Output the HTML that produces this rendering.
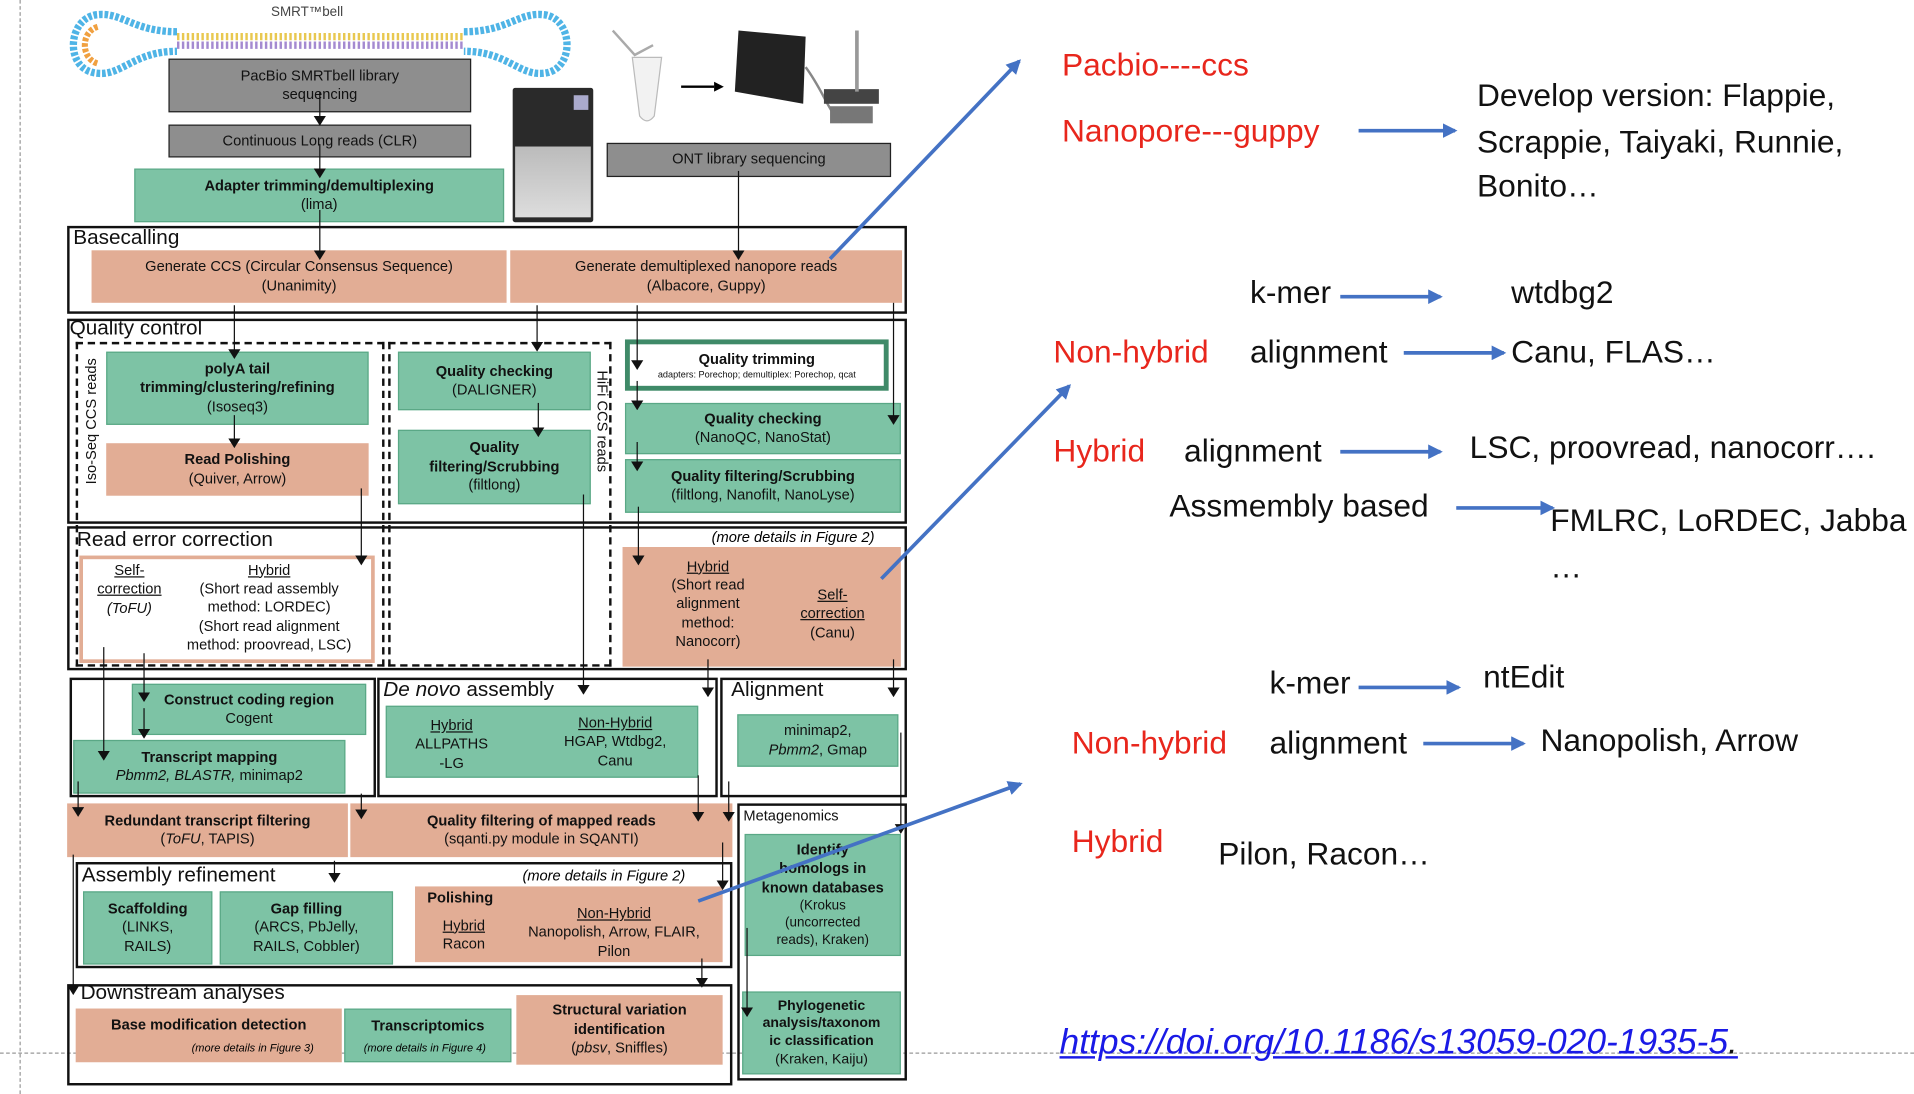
<!DOCTYPE html>
<html><head><meta charset="utf-8"><style>
html,body{margin:0;padding:0;background:#fff;width:1914px;height:1094px;overflow:hidden}
#w{position:absolute;left:0;top:0;width:1568px;height:896px;transform:scale(1.22066,1.22098);transform-origin:0 0;font-family:"Liberation Sans",sans-serif}
.b{position:absolute;display:flex;flex-direction:column;align-items:center;justify-content:center;text-align:center;font-size:12px;line-height:1.28;box-sizing:border-box;color:#111;white-space:nowrap}
.g{background:#7dc3a5;border:1px solid #5aa886}
.s{background:#e2ad95}
.gr{background:#8e8e8e;border:1.5px solid #222}
.o{position:absolute;border:2px solid #111;box-sizing:border-box}
.d{position:absolute;border:2px dashed #111;box-sizing:border-box}
.lab{position:absolute;font-size:17px;color:#111;white-space:nowrap}
.it{position:absolute;font-size:12px;font-style:italic;white-space:nowrap}
u{text-decoration:underline}
.t{position:absolute;font-family:"Liberation Sans",sans-serif;font-size:26px;white-space:nowrap;color:#111;line-height:1}
.r{color:#e8261c}
</style></head><body><div id="w">
<div style="position:absolute;left:16px;top:0;height:896px;border-left:1.5px dashed #999"></div>
<div style="position:absolute;left:0;top:862px;width:1568px;border-top:1.5px dashed #999"></div>

<div class="b" style="left:222px;top:3px;font-size:11px;color:#444">SMRT™bell</div>
<svg style="position:absolute;left:50px;top:8px" width="425" height="60">
<path d="M95 22 H330" stroke="#e8c850" stroke-width="6" stroke-dasharray="2 2"/>
<path d="M95 29 H330" stroke="#a48ad0" stroke-width="6" stroke-dasharray="2 2"/>
<path d="M95 18 C60 18 50 2 30 4 C5 6 2 50 30 52 C50 54 60 34 95 34" fill="none" stroke="#4fb4e6" stroke-width="6" stroke-dasharray="3 1.5"/>
<path d="M30 14 C16 18 16 40 30 44" fill="none" stroke="#f0a040" stroke-width="5" stroke-dasharray="3 1.5"/>
<path d="M330 18 C365 18 375 2 395 4 C420 6 422 50 395 52 C375 54 365 34 330 34" fill="none" stroke="#4fb4e6" stroke-width="6" stroke-dasharray="3 1.5"/>
</svg>
<div class="b gr" style="left:138px;top:48px;width:248px;height:44px">PacBio SMRTbell library<br>sequencing</div>
<div class="b gr" style="left:138px;top:102px;width:248px;height:27px">Continuous Long reads (CLR)</div>
<div class="b g" style="left:110px;top:138px;width:303px;height:44px"><b>Adapter trimming/demultiplexing</b>(lima)</div>
<div style="position:absolute;left:420px;top:72px;width:66px;height:110px;background:#2a2a2a;border-radius:2px"></div>
<div style="position:absolute;left:422px;top:120px;width:62px;height:58px;background:linear-gradient(#bbb,#ddd)"></div>
<div style="position:absolute;left:470px;top:78px;width:12px;height:12px;background:#aac"></div>
<svg style="position:absolute;left:490px;top:15px" width="240" height="95">
<path d="M12 10 L30 30 L45 22" fill="none" stroke="#aaa" stroke-width="2"/>
<path d="M28 32 H52 L46 80 Q40 88 34 80 Z" fill="#f2f2f2" stroke="#bbb"/>
<path d="M68 56 H95" stroke="#000" stroke-width="2"/><path d="M95 52 L103 56 L95 60Z" fill="#000"/>
<path d="M115 10 L170 15 L168 70 L112 60 Z" fill="#222"/>
<path d="M170 40 C185 60 190 80 200 85" fill="none" stroke="#888" stroke-width="2"/>
<rect x="185" y="58" width="45" height="12" fill="#444"/><rect x="190" y="72" width="35" height="14" fill="#777"/>
<path d="M212 10 V60" stroke="#999" stroke-width="3"/>
</svg>
<div class="b gr" style="left:497px;top:117px;width:233px;height:28px">ONT library sequencing</div>

<div class="o" style="left:55px;top:185px;width:688px;height:72px"></div>
<div class="lab" style="left:60px;top:185px">Basecalling</div>
<div class="b s" style="left:75px;top:205px;width:340px;height:43px">Generate CCS (Circular Consensus Sequence)<br>(Unanimity)</div>
<div class="b s" style="left:418px;top:205px;width:321px;height:43px">Generate demultiplexed nanopore reads<br>(Albacore, Guppy)</div>

<div class="o" style="left:55px;top:261px;width:688px;height:168px"></div>
<div class="lab" style="left:57px;top:259px">Quality control</div>
<div class="o" style="left:55px;top:431px;width:688px;height:118px"></div>
<div class="d" style="left:62px;top:280px;width:253px;height:266px"></div>
<div class="d" style="left:318px;top:280px;width:183px;height:266px"></div>
<div class="b" style="left:13px;top:338px;width:125px;height:14px;transform:rotate(-90deg);font-size:12px">Iso-Seq CCS reads</div>
<div class="b" style="left:440px;top:338px;width:105px;height:14px;transform:rotate(90deg);font-size:12px">HiFi CCS reads</div>
<div class="b g" style="left:87px;top:288px;width:215px;height:60px"><b>polyA tail<br>trimming/clustering/refining</b>(Isoseq3)</div>
<div class="b s" style="left:87px;top:363px;width:215px;height:43px"><b>Read Polishing</b>(Quiver, Arrow)</div>
<div class="b g" style="left:326px;top:288px;width:158px;height:48px"><b>Quality checking</b>(DALIGNER)</div>
<div class="b g" style="left:326px;top:352px;width:158px;height:61px"><b>Quality<br>filtering/Scrubbing</b>(filtlong)</div>
<div class="b" style="left:512px;top:278px;width:216px;height:42px;border:4px solid #3f8a68;background:#fff"><b>Quality trimming</b><span style="font-size:7.5px">adapters: Porechop; demultiplex: Porechop, qcat</span></div>
<div class="b g" style="left:512px;top:330px;width:226px;height:42px"><b>Quality checking</b>(NanoQC, NanoStat)</div>
<div class="b g" style="left:512px;top:376px;width:226px;height:44px"><b>Quality filtering/Scrubbing</b>(filtlong, Nanofilt, NanoLyse)</div>

<div class="lab" style="left:63px;top:432px">Read error correction</div>
<div class="it" style="left:583px;top:433px">(more details in Figure 2)</div>
<div style="position:absolute;left:65px;top:455px;width:242px;height:88px;border:3px solid #e2ad95;box-sizing:border-box;background:#fff"></div>
<div class="b" style="left:70px;top:458px;width:72px;height:50px"><u>Self-<br>correction</u><i>(ToFU)</i></div>
<div class="b" style="left:138px;top:457px;width:165px;height:82px"><u>Hybrid</u>(Short read assembly<br>method: LORDEC)<br>(Short read alignment<br>method: proovread, LSC)</div>
<div class="b s" style="left:510px;top:448px;width:228px;height:98px"></div>
<div class="b" style="left:535px;top:452px;width:90px;height:86px"><u>Hybrid</u>(Short read<br>alignment<br>method:<br>Nanocorr)</div>
<div class="b" style="left:640px;top:478px;width:84px;height:50px"><u>Self-<br>correction</u>(Canu)</div>

<div class="o" style="left:57px;top:555px;width:251px;height:98px"></div>
<div class="o" style="left:309px;top:555px;width:279px;height:98px"></div>
<div class="o" style="left:590px;top:555px;width:153px;height:98px"></div>
<div class="b g" style="left:108px;top:560px;width:192px;height:42px"><b>Construct coding region</b>Cogent</div>
<div class="b g" style="left:60px;top:606px;width:223px;height:44px"><b>Transcript mapping</b><span><i>Pbmm2, BLASTR,</i> minimap2</span></div>
<div class="lab" style="left:314px;top:555px"><i>De novo</i> assembly</div>
<div class="b g" style="left:316px;top:578px;width:256px;height:59px"></div>
<div class="b" style="left:325px;top:585px;width:90px;height:50px"><u>Hybrid</u>ALLPATHS<br>-LG</div>
<div class="b" style="left:445px;top:583px;width:118px;height:50px"><u>Non-Hybrid</u>HGAP, Wtdbg2,<br>Canu</div>
<div class="lab" style="left:599px;top:555px">Alignment</div>
<div class="b g" style="left:604px;top:585px;width:132px;height:43px">minimap2,<br><span><i>Pbmm2</i>, Gmap</span></div>

<div class="b s" style="left:55px;top:658px;width:230px;height:44px"><b>Redundant transcript filtering</b><span>(<i>ToFU</i>, TAPIS)</span></div>
<div class="b s" style="left:287px;top:658px;width:313px;height:44px"><b>Quality filtering of mapped reads</b>(sqanti.py module in SQANTI)</div>
<div class="o" style="left:604px;top:658px;width:139px;height:227px"></div>
<div class="b" style="left:609px;top:661px;font-size:12px">Metagenomics</div>
<div class="b g" style="left:610px;top:683px;width:128px;height:100px"><b>Identify<br>homologs in<br>known databases</b><span style="font-size:11px">(Krokus<br>(uncorrected<br>reads), Kraken)</span></div>
<div class="b g" style="left:608px;top:812px;width:130px;height:68px;font-size:11.5px"><b>Phylogenetic<br>analysis/taxonom<br>ic classification</b>(Kraken, Kaiju)</div>

<div class="o" style="left:62px;top:706px;width:538px;height:87px"></div>
<div class="lab" style="left:67px;top:707px">Assembly refinement</div>
<div class="it" style="left:428px;top:710px">(more details in Figure 2)</div>
<div class="b g" style="left:68px;top:730px;width:106px;height:60px"><b>Scaffolding</b>(LINKS,<br>RAILS)</div>
<div class="b g" style="left:180px;top:730px;width:142px;height:60px"><b>Gap filling</b>(ARCS, PbJelly,<br>RAILS, Cobbler)</div>
<div class="b s" style="left:340px;top:726px;width:252px;height:62px"></div>
<div class="b" style="left:350px;top:728px"><b>Polishing</b></div>
<div class="b" style="left:355px;top:750px;width:50px;height:32px"><u>Hybrid</u>Racon</div>
<div class="b" style="left:418px;top:740px;width:170px;height:48px"><u>Non-Hybrid</u>Nanopolish, Arrow, FLAIR,<br>Pilon</div>

<div class="o" style="left:55px;top:806px;width:545px;height:83px"></div>
<div class="lab" style="left:66px;top:803px">Downstream analyses</div>
<div class="b s" style="left:62px;top:826px;width:218px;height:44px;justify-content:flex-start;padding-top:6px"><b>Base modification detection</b></div>
<div class="it" style="left:157px;top:853px;font-size:9px">(more details in Figure 3)</div>
<div class="b g" style="left:282px;top:826px;width:137px;height:44px;justify-content:flex-start;padding-top:6px"><b>Transcriptomics</b></div>
<div class="it" style="left:298px;top:853px;font-size:9px">(more details in Figure 4)</div>
<div class="b s" style="left:423px;top:815px;width:169px;height:57px"><b>Structural variation<br>identification</b><span>(<i>pbsv</i>, Sniffles)</span></div>

<svg style="position:absolute;left:0;top:0" width="1568" height="896">
<defs><marker id="a" markerWidth="8" markerHeight="10" refX="7" refY="5" orient="auto" markerUnits="userSpaceOnUse"><path d="M0 0 L8 5 L0 10Z" fill="#111"/></marker>
<marker id="bl" markerWidth="12" markerHeight="12" refX="10" refY="6" orient="auto" markerUnits="userSpaceOnUse"><path d="M0 0 L12 6 L0 12Z" fill="#4472c4"/></marker></defs>
<g stroke="#111" stroke-width="1" fill="none" marker-end="url(#a)">
<path d="M262 75 V102"/><path d="M262 118 V145"/><path d="M262 172 V212"/><path d="M605 140 V212"/>
<path d="M192 250 V293"/><path d="M440 250 V287"/><path d="M522 250 V302"/><path d="M522 312 V335"/><path d="M732 248 V347"/><path d="M522 362 V385"/>
<path d="M192 340 V366"/><path d="M441 330 V357"/><path d="M296 400 V462"/><path d="M478 405 V568"/><path d="M523 415 V462"/>
<path d="M85 530 V622"/><path d="M118 535 V574"/><path d="M118 580 V604"/><path d="M580 540 V570"/><path d="M732 540 V570"/>
<path d="M64 640 V668"/><path d="M296 650 V670"/><path d="M572 635 V672"/><path d="M597 640 V672"/>
<path d="M274 705 V722"/><path d="M592 690 V728"/><path d="M575 785 V808"/><path d="M60 700 V814"/><path d="M612 760 V832"/><path d="M738 600 V682"/>
</g>
<g stroke="#4472c4" stroke-width="3" fill="none" marker-end="url(#bl)">
<path d="M680 212 L835 50"/><path d="M722 474 L876 316"/><path d="M572 738 L836 642"/>
<path d="M1113 107 H1192"/><path d="M1098 243 H1180"/><path d="M1150 289 H1232"/><path d="M1098 370 H1180"/><path d="M1193 416 H1272"/>
<path d="M1113 563 H1195"/><path d="M1166 609 H1248"/>
</g>
</svg>

<div class="t r" style="left:870px;top:40px">Pacbio----ccs</div>
<div class="t r" style="left:870px;top:94px">Nanopore---guppy</div>
<div class="t" style="left:1210px;top:65px">Develop version: Flappie,</div>
<div class="t" style="left:1210px;top:103px">Scrappie, Taiyaki, Runnie,</div>
<div class="t" style="left:1210px;top:139px">Bonito…</div>
<div class="t" style="left:1024px;top:226px">k-mer</div>
<div class="t" style="left:1238px;top:226px">wtdbg2</div>
<div class="t r" style="left:863px;top:275px">Non-hybrid</div>
<div class="t" style="left:1024px;top:275px">alignment</div>
<div class="t" style="left:1238px;top:275px">Canu, FLAS…</div>
<div class="t r" style="left:863px;top:356px">Hybrid</div>
<div class="t" style="left:970px;top:356px">alignment</div>
<div class="t" style="left:1204px;top:353px">LSC, proovread, nanocorr….</div>
<div class="t" style="left:958px;top:401px">Assmembly based</div>
<div class="t" style="left:1270px;top:413px">FMLRC, LoRDEC, Jabba</div>
<div class="t" style="left:1270px;top:451px">…</div>
<div class="t" style="left:1040px;top:546px">k-mer</div>
<div class="t" style="left:1215px;top:541px">ntEdit</div>
<div class="t r" style="left:878px;top:595px">Non-hybrid</div>
<div class="t" style="left:1040px;top:595px">alignment</div>
<div class="t" style="left:1262px;top:593px">Nanopolish, Arrow</div>
<div class="t r" style="left:878px;top:676px">Hybrid</div>
<div class="t" style="left:998px;top:686px">Pilon, Racon…</div>
<div class="t" style="left:868px;top:840px;font-size:29px;color:#1a1ae6;font-style:italic;text-decoration:underline">https://doi.org/10.1186/s13059-020-1935-5<span style="color:#111;text-decoration:none">.</span></div>
</div></body></html>
